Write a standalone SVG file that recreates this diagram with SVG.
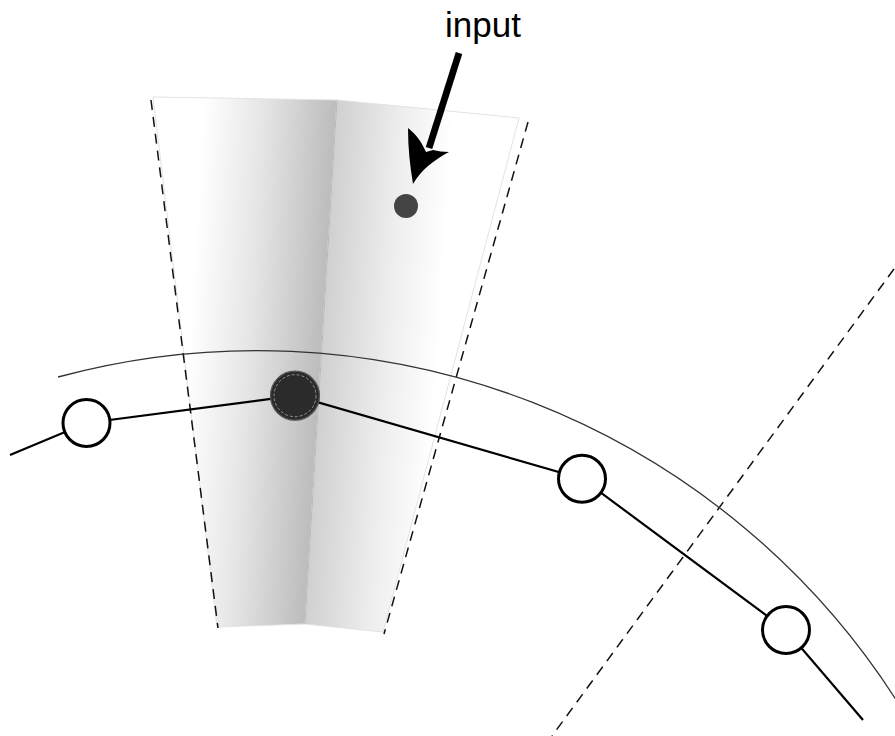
<svg xmlns="http://www.w3.org/2000/svg" width="895" height="736" viewBox="0 0 895 736">
<style>
.dash{fill:none;stroke:#111;stroke-width:1.5;stroke-dasharray:10 7}
.edge{fill:none;stroke:#000;stroke-width:2.2}
.node{fill:#fff;stroke:#000;stroke-width:3}
.panelEdge{stroke:#e2e2e2;stroke-width:1}
</style>
<defs>
<linearGradient id="gL" gradientUnits="userSpaceOnUse" x1="210" y1="0" x2="341" y2="0" gradientTransform="skewX(-3.5)">
<stop offset="0" stop-color="#ffffff"/>
<stop offset="0.45" stop-color="#e6e6e6"/>
<stop offset="1" stop-color="#bdbdbd"/>
</linearGradient>
<linearGradient id="gR" gradientUnits="userSpaceOnUse" x1="341" y1="0" x2="460" y2="0" gradientTransform="skewX(-3.5)">
<stop offset="0" stop-color="#cfcfcf"/>
<stop offset="0.55" stop-color="#ededed"/>
<stop offset="1" stop-color="#ffffff"/>
</linearGradient>
</defs>
<rect width="895" height="736" fill="#fff"/>

<g id="wedge">
<polygon points="153,97 337,100 305,624 217,627" fill="url(#gL)" class="panelEdge"/>
<polygon points="337,100 519,118 383,632 305,624" fill="url(#gR)" class="panelEdge"/>
<line x1="337" y1="100" x2="305" y2="624" stroke="#b8b8b8" stroke-width="1"/>
<line class="dash" x1="151" y1="100" x2="218" y2="628"/>
<line class="dash" x1="528" y1="122" x2="384" y2="634"/>
</g>

<g id="boundary-line">
<line class="dash" x1="894" y1="269" x2="552" y2="736"/>
</g>

<g id="outer-arc">
<path d="M58,377 A760,760 0 0 1 900,706" fill="none" stroke="#333" stroke-width="1.3"/>
</g>

<g id="connectors">
<polyline class="edge" points="10,455 86.5,423 295,395.7 582,478.7 786,630 863,720"/>
<line x1="459" y1="53" x2="429" y2="148" stroke="#000" stroke-width="6.8"/>
<path d="M413,184 C410,166 408,148 408,128 C417,135 422,143 426,152 L433,150 C438,151 443,152 449,152 C434,160 421,170 413,184 Z" fill="#000"/>
</g>

<g id="node1"><circle class="node" cx="86.5" cy="423" r="23.5"/></g>
<g id="node2">
<circle cx="295" cy="395.7" r="24.5" fill="#2b2b2b" stroke="#555" stroke-width="1.2"/>
<circle cx="295" cy="395.7" r="21" fill="none" stroke="#aaa" stroke-width="0.8" stroke-dasharray="3 2"/>
</g>
<g id="node3"><circle class="node" cx="582" cy="478.7" r="23.5"/></g>
<g id="node4"><circle class="node" cx="786" cy="630" r="23.5"/></g>

<g id="input">
<circle cx="406" cy="206" r="12" fill="#444"/>
<text x="483" y="37" font-family="Liberation Sans, Arial, sans-serif" font-size="35" text-anchor="middle" fill="#000">input</text>
</g>
</svg>
